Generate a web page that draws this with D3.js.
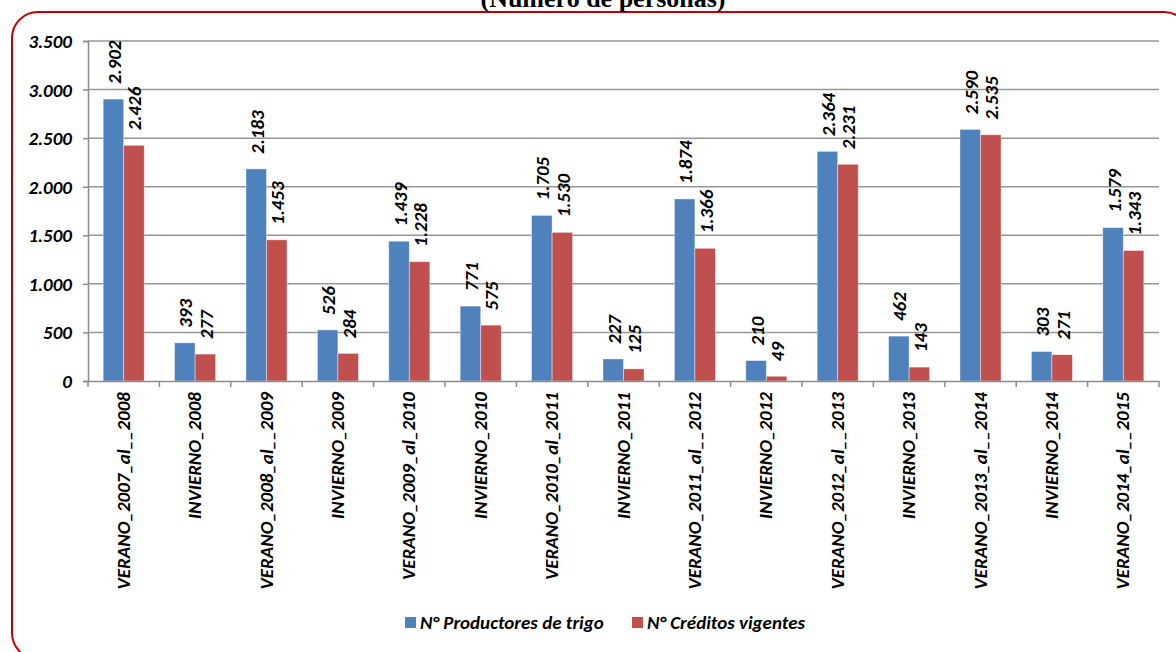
<!DOCTYPE html>
<html>
<head>
<meta charset="utf-8">
<script src="https://cdn.jsdelivr.net/npm/d3@7"></script>
<style>
  html, body { margin: 0; padding: 0; background: #fff; }
  svg { display: block; }
  .lbl { font-family: Carlito, Lato, "Liberation Sans", sans-serif; font-weight: bold; font-style: italic; fill: #000; }
</style>
</head>
<body>
<svg id="chart" width="1176" height="652"></svg>
<script>
// Categories (seasons) and the two series, in persons
const categories = [
  "VERANO_2007_al__2008", "INVIERNO_2008", "VERANO_2008_al__2009", "INVIERNO_2009",
  "VERANO_2009_al_2010", "INVIERNO_2010", "VERANO_2010_al_2011", "INVIERNO_2011",
  "VERANO_2011_al__2012", "INVIERNO_2012", "VERANO_2012_al__2013", "INVIERNO_2013",
  "VERANO_2013_al__2014", "INVIERNO_2014", "VERANO_2014_al__2015"
];
const productores = [2902, 393, 2183, 526, 1439, 771, 1705, 227, 1874, 210, 2364, 462, 2590, 303, 1579];
const creditos    = [2426, 277, 1453, 284, 1228, 575, 1530, 125, 1366, 49, 2231, 143, 2535, 271, 1343];
const seriesNames = ["N° Productores de trigo", "N° Créditos vigentes"];
const seriesColors = ["#4F81BD", "#C0504D"];
const yTicks = [0, 500, 1000, 1500, 2000, 2500, 3000, 3500];
const titleText = "(Número de personas)";

const locale = d3.formatLocale({ decimal: ",", thousands: ".", grouping: [3], currency: ["", ""] });
const fmt = locale.format(",d");

const FS = "19px";
const svg = d3.select("#chart");

// Rounded red frame
svg.append("rect")
  .attr("x", 12).attr("y", 12).attr("width", 1178).attr("height", 647)
  .attr("rx", 26).attr("ry", 26)
  .attr("fill", "none").attr("stroke", "#C00000").attr("stroke-width", 2);

// Title, sitting on the top edge of the frame
svg.append("text")
  .attr("x", 603).attr("y", 7)
  .attr("text-anchor", "middle")
  .style("font-family", "'Liberation Serif', 'Times New Roman', serif")
  .style("font-weight", "bold")
  .style("font-size", "26px")
  .text(titleText);

const plot = { left: 88, right: 1159, top: 41, bottom: 381 };

const x0 = d3.scaleBand().domain(categories).range([plot.left, plot.right]).paddingInner(0).paddingOuter(0);
const x1 = d3.scaleBand().domain([0, 1]).range([0, x0.bandwidth()]).paddingInner(0).paddingOuter(0.74);
const y = d3.scaleLinear().domain([0, 3500]).range([plot.bottom, plot.top]);

// Gridlines
svg.append("g").selectAll("line").data(yTicks.filter(d => d > 0)).join("line")
  .attr("x1", plot.left).attr("x2", plot.right)
  .attr("y1", d => y(d)).attr("y2", d => y(d))
  .attr("stroke", "#969696").attr("stroke-width", 1.5);

// Y axis
const yAxis = svg.append("g").attr("transform", `translate(${plot.left},0)`)
  .call(d3.axisLeft(y).tickValues(yTicks).tickFormat(fmt).tickSize(5).tickPadding(11));
yAxis.select(".domain").attr("stroke", "#8c8c8c").attr("stroke-width", 1.5);
yAxis.selectAll(".tick line").attr("stroke", "#8c8c8c").attr("stroke-width", 1.5);
yAxis.selectAll("text").attr("class", "lbl").style("font-size", FS).attr("dy", "0.34em");

// Bars
const series = [productores, creditos];
const groups = svg.append("g").selectAll("g").data(categories).join("g")
  .attr("transform", d => `translate(${x0(d)},0)`);

series.forEach((vals, si) => {
  groups.append("rect")
    .attr("x", x1(si))
    .attr("width", x1.bandwidth())
    .attr("y", (d, i) => y(vals[i]))
    .attr("height", (d, i) => y(0) - y(vals[i]))
    .attr("fill", seriesColors[si])
    .attr("stroke", "#ffffff").attr("stroke-opacity", 0.5).attr("stroke-width", 0.8);

  // Value labels, rotated, above each bar
  groups.append("text")
    .attr("class", "lbl")
    .style("font-size", FS)
    .attr("transform", (d, i) => `translate(${x1(si) + x1.bandwidth() / 2 + 7.5},${y(vals[i]) - 15}) rotate(-90)`)
    .attr("text-anchor", "start")
    .text((d, i) => fmt(vals[i]));
});

// X axis line
const xAxis = svg.append("g").attr("transform", `translate(0,${plot.bottom})`)
  .call(d3.axisBottom(x0).tickSize(0).tickFormat(""));
xAxis.select(".domain").attr("stroke", "#8c8c8c").attr("stroke-width", 1.5);
xAxis.selectAll(".tick").remove();

// Tick marks at category boundaries
const bounds = categories.map(c => x0(c)).concat([plot.right]);
svg.append("g").selectAll("line").data(bounds).join("line")
  .attr("x1", d => d).attr("x2", d => d)
  .attr("y1", plot.bottom).attr("y2", plot.bottom + 6)
  .attr("stroke", "#8c8c8c").attr("stroke-width", 1.5);

// Category labels
svg.append("g").selectAll("text").data(categories).join("text")
  .attr("class", "lbl")
  .style("font-size", FS)
  .attr("text-anchor", "end")
  .attr("transform", d => `translate(${x0(d) + x0.bandwidth() / 2 + 6},${plot.bottom + 11}) rotate(-90)`)
  .text(d => d);

// Legend
const legendX = [405, 632];
const legend = svg.append("g").selectAll("g").data(seriesNames).join("g")
  .attr("transform", (d, i) => `translate(${legendX[i]},617)`);
legend.append("rect").attr("width", 11).attr("height", 11).attr("fill", (d, i) => seriesColors[i]);
legend.append("text").attr("class", "lbl").style("font-size", FS)
  .attr("x", 15).attr("y", 12).text(d => d);
</script>
</body>
</html>
